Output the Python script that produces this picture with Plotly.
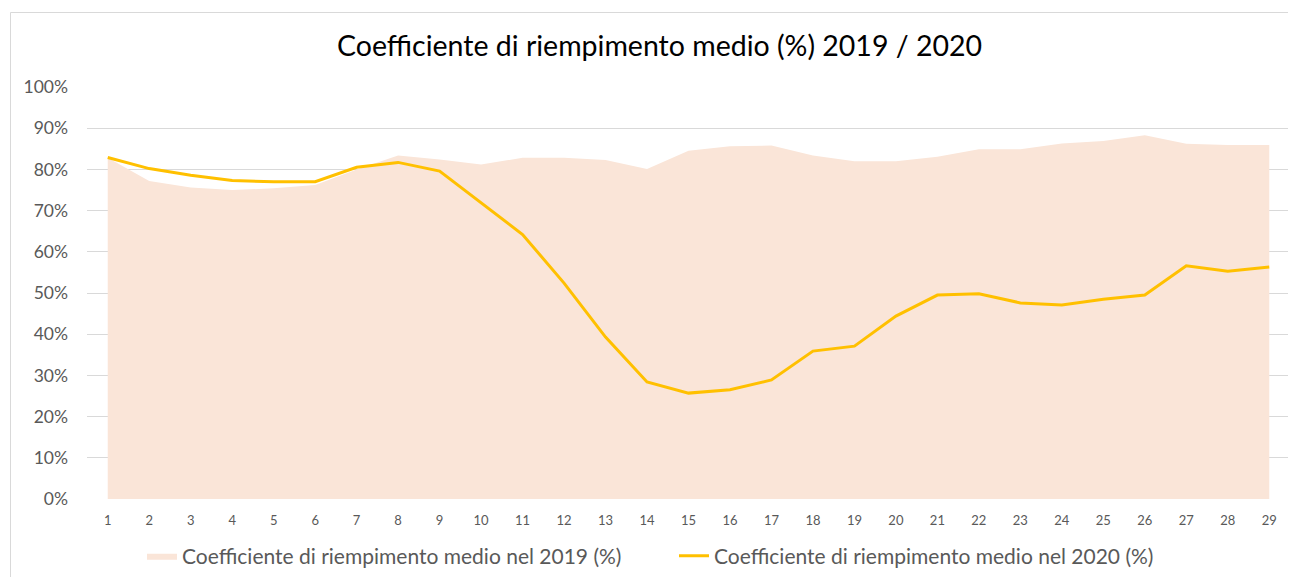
import plotly.graph_objects as go

categories = list(range(1, 30))
fill_2019 = [82.8, 77.2, 75.6, 75.0, 75.4, 76.2, 80.0, 83.4, 82.4, 81.2,
             82.8, 82.8, 82.3, 80.1, 84.5, 85.6, 85.8, 83.4, 82.0, 82.0,
             83.1, 84.9, 84.9, 86.3, 86.9, 88.3, 86.2, 85.9, 85.9]
fill_2020 = [82.9, 80.2, 78.6, 77.3, 77.0, 77.0, 80.5, 81.7, 79.6, 71.8,
             64.2, 52.4, 39.3, 28.4, 25.7, 26.5, 28.9, 35.9, 37.1, 44.4,
             49.5, 49.8, 47.6, 47.1, 48.5, 49.5, 56.6, 55.3, 56.3]
y_ticks = list(range(0, 101, 10))

title = "Coefficiente di riempimento medio (%) 2019 / 2020"
name_2019 = "Coefficiente di riempimento medio nel 2019 (%)"
name_2020 = "Coefficiente di riempimento medio nel 2020 (%)"

FONT = "Lato"

fig = go.Figure()
fig.add_trace(go.Scatter(
    x=categories, y=fill_2019, name=name_2019, mode="lines",
    line=dict(width=0, color="#FAE5D8"), fill="tozeroy", fillcolor="#FAE5D8",
    hoverinfo="x+y", legend="legend"))
fig.add_trace(go.Scatter(
    x=categories, y=fill_2020, name=name_2020, mode="lines",
    line=dict(width=3, color="#FFC000"), legend="legend2"))

# page offset (body margin) compensation
OFF = 8
W, H = 1296, 577
L, R, T, B = 87 - OFF, 1290 - OFF, 87 - OFF, 499 - OFF
pw, ph = R - L, B - T

def px_x(p):
    return (p - OFF - L) / pw

def px_y(p):
    return (B - (p - OFF)) / ph

leg_common = dict(orientation="h", xanchor="left", yanchor="middle",
                  font=dict(size=21, color="#595959", family=FONT),
                  itemwidth=30, bgcolor="rgba(0,0,0,0)")

fig.update_layout(
    width=W, height=H,
    margin=dict(l=L, r=W - R, t=T, b=H - B, autoexpand=False),
    paper_bgcolor="white", plot_bgcolor="white",
    font=dict(family=FONT, color="#595959"),
    title=dict(text=title, x=(659.5 - OFF) / W, xref="container", xanchor="center",
               y=1 - (46 - OFF) / H, yref="container", yanchor="middle",
               font=dict(size=28.5, color="#000000", family=FONT)),
    showlegend=True,
    legend=dict(x=px_x(142), y=px_y(556), **leg_common),
    legend2=dict(x=px_x(674), y=px_y(556), **leg_common),
    xaxis=dict(range=[0.5, 29.5], tickvals=categories, ticktext=[str(c) for c in categories],
               showgrid=False, zeroline=False, showline=False, ticks="",
               tickfont=dict(size=13, color="#595959"), ticklabelstandoff=12),
    yaxis=dict(range=[0, 100], tickvals=y_ticks, ticktext=[f"{v}%" for v in y_ticks],
               showgrid=True, gridcolor="#D9D9D9", gridwidth=1, zeroline=False,
               showline=False, ticks="", tickfont=dict(size=17.5, color="#595959"),
               ticklabelstandoff=18),
    shapes=[dict(type="rect", xref="paper", yref="paper",
                 x0=px_x(10.5), x1=px_x(1320), y0=px_y(640), y1=px_y(12.5),
                 line=dict(color="#D9D9D9", width=1), fillcolor="rgba(0,0,0,0)",
                 layer="below")],
)

fig.write_html("out.html")
